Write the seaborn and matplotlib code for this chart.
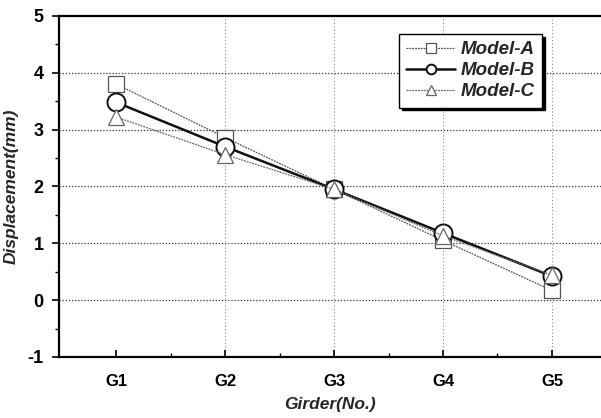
import matplotlib
matplotlib.use("Agg")
import matplotlib.pyplot as plt
import seaborn as sns
import pandas as pd

girders = ["G1", "G2", "G3", "G4", "G5"]
model_a = [3.80, 2.86, 1.95, 1.05, 0.17]
model_b = [3.48, 2.70, 1.95, 1.18, 0.42]
model_c = [3.22, 2.56, 1.95, 1.13, 0.44]
series_names = ["Model-A", "Model-B", "Model-C"]

sns.set_theme(style="white")
plt.rcParams["font.family"] = ["Liberation Sans", "DejaVu Sans"]
plt.rcParams["axes.unicode_minus"] = False

rows = []
for name, vals in zip(series_names, [model_a, model_b, model_c]):
    for i, (g, v) in enumerate(zip(girders, vals)):
        rows.append({"pos": i + 1, "girder": g, "value": v, "model": name})
df = pd.DataFrame(rows)

fig = plt.figure(figsize=(6.01, 4.18), dpi=100)
ax = fig.add_axes([0.098, 0.146, 0.902, 0.816])

styles = {
    "Model-A": dict(marker="s", color="#555555", lw=0.9, ls=(0, (1.5, 0.8)), ms=11, mew=0.9),
    "Model-B": dict(marker="o", color="#111111", lw=1.8, ls="-", ms=13, mew=1.4),
    "Model-C": dict(marker="^", color="#666666", lw=0.9, ls=(0, (1.5, 0.8)), ms=12, mew=0.9),
}
for name in series_names:
    st = styles[name]
    sub = df[df["model"] == name]
    sns.lineplot(data=sub, x="pos", y="value", ax=ax, label=name,
                 color=st["color"], linewidth=st["lw"], linestyle=st["ls"],
                 marker=st["marker"], markersize=st["ms"], markerfacecolor="white",
                 markeredgecolor=st["color"], markeredgewidth=st["mew"])

ax.set_xlim(0.475, 5.45)
ax.set_ylim(-1, 5)
ax.set_xticks(range(1, 6))
ax.set_xticklabels(girders)
ax.set_yticks(range(-1, 6))
ax.set_xticks([1.5, 2.5, 3.5, 4.5], minor=True)
ax.set_yticks([-0.5, 0.5, 1.5, 2.5, 3.5, 4.5], minor=True)

for y in range(0, 5):
    ax.axhline(y, color="#333333", lw=0.9, ls=(0, (1, 1.5)), zorder=0)
for x in range(2, 6):
    ax.axvline(x, color="#777777", lw=0.7, ls=(0, (1, 2.5)), zorder=0)

ax.tick_params(axis="x", which="major", direction="in", length=5, width=1.2, labelsize=12, pad=12)
ax.tick_params(axis="x", which="minor", direction="in", length=3, width=1.0)
ax.tick_params(axis="y", which="major", direction="out", length=5, width=1.2, labelsize=13, pad=6)
ax.tick_params(axis="y", which="minor", direction="out", length=3, width=1.0)
ax.tick_params(axis="both", colors="black", bottom=True, left=True, which="both")
for lab in ax.get_xticklabels() + ax.get_yticklabels():
    lab.set_fontweight("bold")

for s in ["left", "bottom", "top"]:
    ax.spines[s].set_visible(True)
    ax.spines[s].set_color("black")
    ax.spines[s].set_linewidth(1.6)
ax.spines["right"].set_visible(False)

ax.set_xlabel("Girder(No.)", fontsize=12.5, fontweight="bold", fontstyle="italic", labelpad=6)
ax.set_ylabel("Displacement(mm)", fontsize=12.5, fontweight="bold", fontstyle="italic", labelpad=6)

leg = ax.legend(loc="upper left", bbox_to_anchor=(0.61, 0.975), frameon=True,
                shadow={"color": "black", "alpha": 1.0},
                fancybox=False, fontsize=13.5, handlelength=2.6, handletextpad=0.3,
                borderpad=0.4, labelspacing=0.2, edgecolor="black")
leg.get_frame().set_linewidth(1.0)
for t in leg.get_texts():
    t.set_fontweight("bold")
    t.set_fontstyle("italic")
for h in leg.get_lines():
    h.set_markersize(7)

fig.savefig("out.png", dpi=100)
